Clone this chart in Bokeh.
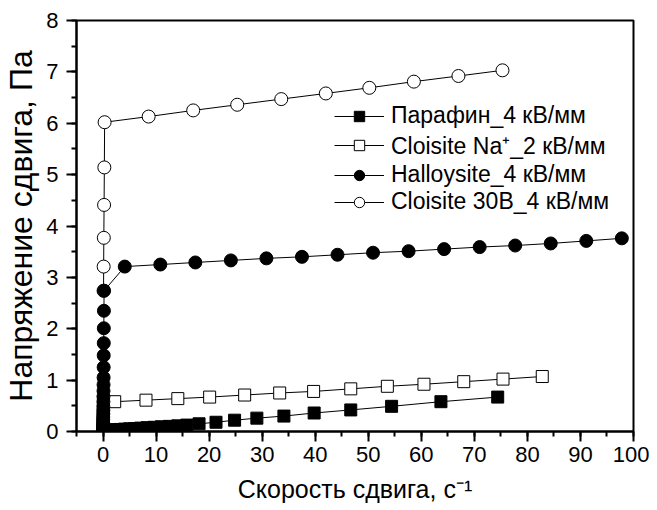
from bokeh.plotting import figure
from bokeh.models import (ColumnDataSource, Legend, LegendItem, SingleIntervalTicker,
                          Range1d)
from bokeh.embed import file_html
from bokeh.resources import INLINE

FONT = "Liberation Sans"

# ---- data ----
paraffin_x = [0.05, 0.1, 0.2, 0.35, 0.55, 0.8, 1.1, 1.5, 2.0, 2.6, 3.3, 4.1, 5.0, 6.0,
              7.1, 8.3, 9.6, 11.0, 12.5, 14.1, 15.8, 18.1, 21.3, 24.8, 29.0, 34.1,
              39.8, 46.7, 54.4, 63.7, 74.4]
paraffin_y = [0.010, 0.012, 0.015, 0.017, 0.019, 0.021, 0.024, 0.027, 0.031, 0.035,
              0.040, 0.046, 0.052, 0.058, 0.066, 0.074, 0.082, 0.092, 0.100, 0.110,
              0.125, 0.15, 0.18, 0.22, 0.26, 0.30, 0.36, 0.42, 0.49, 0.58, 0.67]

na_x = [0.05, 0.05, 0.08, 0.1, 2.2, 8.1, 14.1, 20.1, 26.7, 33.3, 39.7, 46.7, 53.6,
        60.5, 68.0, 75.4, 82.8]
na_y = [0.05, 0.15, 0.30, 0.45, 0.58, 0.61, 0.64, 0.67, 0.71, 0.75, 0.78, 0.83, 0.88,
        0.92, 0.97, 1.02, 1.07]

hal_x = [0.0, 0.0, 0.01, 0.01, 0.02, 0.02, 0.03, 0.03, 0.04, 0.05, 0.05, 0.06, 0.07,
         0.08, 0.09, 0.10, 0.11, 0.12, 0.13, 0.14, 0.15, 0.17, 0.2,
         4.1, 10.8, 17.4, 24.1, 30.8, 37.5, 44.2, 50.9, 57.6, 64.3, 71.0, 77.7, 84.4,
         91.1, 97.8]
hal_y = [0.0, 0.02, 0.04, 0.07, 0.10, 0.14, 0.18, 0.23, 0.28, 0.34, 0.41, 0.49, 0.58,
         0.68, 0.79, 0.91, 1.05, 1.25, 1.48, 1.72, 2.01, 2.35, 2.74,
         3.21, 3.25, 3.29, 3.33, 3.37, 3.40, 3.44, 3.48, 3.51, 3.55, 3.59, 3.62, 3.66,
         3.71, 3.76]

c30_x = [0.1, 0.12, 0.15, 0.2, 0.25, 0.3, 8.6, 17.0, 25.3, 33.6, 42.0, 50.2, 58.6,
         67.0, 75.3]
c30_y = [2.74, 3.21, 3.77, 4.41, 5.14, 6.02, 6.13, 6.25, 6.36, 6.47, 6.58, 6.69, 6.81,
         6.92, 7.03]

labels = ["Парафин_4 кВ/мм", "Cloisite Na\u207a_2 кВ/мм", "Halloysite_4 кВ/мм",
          "Cloisite 30B_4 кВ/мм"]
x_title = "Скорость сдвига, с\u207b\u00b9"
y_title = "Напряжение сдвига, Па"

p = figure(width=649, height=510, x_range=Range1d(-5, 100), y_range=Range1d(0, 8),
           output_backend="svg", toolbar_location=None,
           min_border_left=75, min_border_right=16, min_border_top=20,
           min_border_bottom=79)
p.grid.visible = False
p.outline_line_color = "black"
p.outline_line_width = 2
p.background_fill_color = "white"
p.border_fill_color = "white"

p.xaxis.ticker = SingleIntervalTicker(interval=10, num_minor_ticks=2)
p.yaxis.ticker = SingleIntervalTicker(interval=1, num_minor_ticks=2)
for ax in (p.xaxis, p.yaxis):
    ax.axis_line_width = 2
    ax.axis_line_color = "black"
    ax.major_tick_out = 10
    ax.major_tick_in = 0
    ax.minor_tick_out = 5
    ax.minor_tick_in = 0
    ax.major_tick_line_width = 2
    ax.minor_tick_line_width = 2
    ax.major_tick_line_color = "black"
    ax.minor_tick_line_color = "black"
    ax.major_label_text_font = FONT
    ax.major_label_text_font_size = "22px"
    ax.major_label_text_color = "black"
    ax.axis_label_text_font = FONT
    ax.axis_label_text_font_style = "normal"
    ax.axis_label_text_color = "black"

p.xaxis.axis_label = x_title
p.yaxis.axis_label = y_title
p.xaxis.axis_label_text_font_size = "25px"
p.yaxis.axis_label_text_font_size = "32px"
p.xaxis.major_label_standoff = 5
p.yaxis.major_label_standoff = 8
p.xaxis.axis_label_standoff = 10
p.yaxis.axis_label_standoff = 4

src_p = ColumnDataSource(dict(x=paraffin_x, y=paraffin_y))
src_n = ColumnDataSource(dict(x=na_x, y=na_y))
src_h = ColumnDataSource(dict(x=hal_x, y=hal_y))
src_c = ColumnDataSource(dict(x=c30_x, y=c30_y))

lp = p.line("x", "y", source=src_p, line_color="black", line_width=1)
mp = p.scatter("x", "y", source=src_p, marker="square", size=12,
               fill_color="black", line_color="black")
ln = p.line("x", "y", source=src_n, line_color="black", line_width=1)
mn = p.scatter("x", "y", source=src_n, marker="square", size=12,
               fill_color="white", line_color="black", line_width=1)
lc = p.line("x", "y", source=src_c, line_color="black", line_width=1)
mc = p.scatter("x", "y", source=src_c, marker="circle", size=13,
               fill_color="white", line_color="black", line_width=1)
lh = p.line("x", "y", source=src_h, line_color="black", line_width=1)
mh = p.scatter("x", "y", source=src_h, marker="circle", size=13,
               fill_color="black", line_color="black")

legend = Legend(items=[LegendItem(label=labels[0], renderers=[lp, mp]),
                       LegendItem(label=labels[1], renderers=[ln, mn]),
                       LegendItem(label=labels[2], renderers=[lh, mh]),
                       LegendItem(label=labels[3], renderers=[lc, mc])],
                location=(258, 216), glyph_width=50, glyph_height=26,
                label_height=20, spacing=0, padding=0, margin=0,
                label_standoff=7, label_text_font=FONT,
                label_text_font_size="23px", label_text_color="black",
                background_fill_alpha=0, border_line_alpha=0)
p.add_layout(legend)

open("out.html", "w").write(file_html(p, INLINE))
